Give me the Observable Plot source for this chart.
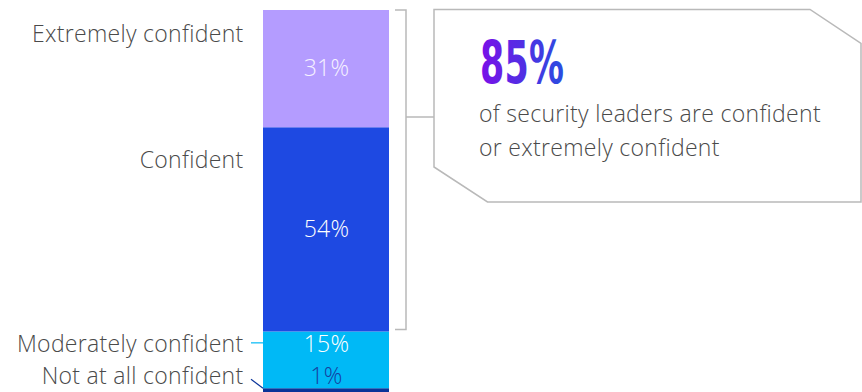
<!DOCTYPE html>
<html><head><meta charset="utf-8">
<script src="https://cdn.jsdelivr.net/npm/d3@7"></script>
<script src="https://cdn.jsdelivr.net/npm/@observablehq/plot@0.6"></script>
<style>
body{margin:0;background:#fff;}
#chart svg{display:block}
</style></head><body><div id="chart"></div>
<script>
// ---- data ----
const categories = ["Not at all confident", "Moderately confident", "Confident", "Extremely confident"];
const values = [1, 15, 54, 31];
const valueLabels = ["1%", "15%", "54%", "31%"];
const highlightValue = "85%";
const highlightLines = ["of security leaders are confident", "or extremely confident"];
const bracketCategories = ["Confident", "Extremely confident"];

// ---- styles / layout ----
const colors = ["#0a3399", "#00b9f6", "#1e49e2", "#b49cff"];
const valueLabelColors = ["#15409f", "#ffffff", "#ffffff", "#f6f2ff"];
const valueLabelDy = [-14, -16, 0, 0];
const nameLabelDy = [-12, 13, 33, 24];
const W = 862, H = 392;
const barX = [263, 389];
const labelRight = 243;
const textColor = "#4a4a4a";
const lineColor = "#b9b9b9";
const font = "'Open Sans', sans-serif";
const fs = 23, ls = "0.3px";

let acc = 0;
const rows = categories.map((c, i) => {
  const y1 = acc; acc += values[i];
  return {category: c, value: values[i], label: valueLabels[i], y1, y2: acc, mid: (y1 + acc) / 2, i};
});
const total = acc;
const barCenter = (barX[0] + barX[1]) / 2;

function annotations(index, scales) {
  const y = scales.y;
  const g = d3.create("svg:g").attr("text-anchor", "start");
  const defs = g.append("defs");
  const grad = defs.append("linearGradient").attr("id", "hlgrad")
    .attr("x1", "0%").attr("x2", "100%").attr("y1", "0%").attr("y2", "0%");
  grad.append("stop").attr("offset", "0%").attr("stop-color", "#7a10e8");
  grad.append("stop").attr("offset", "100%").attr("stop-color", "#2a4de0");

  // leader lines for small segments
  const mod = rows[1], not = rows[0];
  const modY = y(mod.mid) + valueLabelDy[1] - 1;
  g.append("line").attr("x1", 251).attr("x2", barX[0]).attr("y1", modY).attr("y2", modY)
    .attr("stroke", colors[1]).attr("stroke-width", 1.2);
  g.append("line").attr("x1", 251).attr("x2", barX[0]).attr("y1", y(not.y2) - 9).attr("y2", y(not.y2))
    .attr("stroke", colors[0]).attr("stroke-width", 1.2);

  // bracket
  const b = rows.filter(r => bracketCategories.includes(r.category));
  const top = y(d3.max(b, r => r.y2)), bot = y(d3.min(b, r => r.y1)) - 2;
  const bx = 406;
  g.append("path").attr("d", `M395,${top}H${bx}V${bot}H395`)
    .attr("fill", "none").attr("stroke", lineColor).attr("stroke-width", 1.5);
  g.append("line").attr("x1", bx).attr("x2", 434).attr("y1", 117).attr("y2", 117)
    .attr("stroke", lineColor).attr("stroke-width", 1.5);

  // callout box
  g.append("path").attr("d", "M434,9.5H810L861,43.5V202H487.5L434,167Z")
    .attr("fill", "white").attr("stroke", lineColor).attr("stroke-width", 1.5);
  g.append("text").attr("x", 480).attr("y", 83).attr("text-anchor", "start")
    .attr("font-family", "'Liberation Sans Narrow','DejaVu Sans Condensed',sans-serif")
    .attr("font-weight", "bold").attr("font-size", 58)
    .attr("textLength", 84).attr("lengthAdjust", "spacingAndGlyphs")
    .attr("fill", "url(#hlgrad)").text(highlightValue);
  highlightLines.forEach((t, i) => {
    g.append("text").attr("x", 479).attr("y", 122 + i * 34).attr("text-anchor", "start")
      .attr("font-family", font).attr("font-weight", 300).attr("font-size", fs)
      .attr("letter-spacing", ls).attr("fill", textColor).text(t);
  });
  return g.node();
}

const plot = Plot.plot({
  width: W, height: H, margin: 0,
  x: {type: "band", domain: ["all"], range: barX, padding: 0, axis: null},
  y: {domain: [0, total], range: [H, 10], axis: null},
  color: {domain: categories, range: colors},
  style: {fontFamily: font, background: "white", overflow: "visible", letterSpacing: ls},
  marks: [
    Plot.barY(rows, {x: () => "all", y1: "y1", y2: "y2", fill: "category"}),
    ...rows.map(r => Plot.text([r], {x: () => "all", y: "mid", text: "label", dy: valueLabelDy[r.i],
      fill: valueLabelColors[r.i], fontSize: fs, fontWeight: 300})),
    ...rows.map(r => Plot.text([r], {x: () => "all", y: "y2", text: "category", dx: labelRight - barCenter,
      dy: nameLabelDy[r.i], textAnchor: "end", fill: textColor, fontSize: fs, fontWeight: 300})),
    annotations
  ]
});
document.getElementById("chart").append(plot);
</script></body></html>
